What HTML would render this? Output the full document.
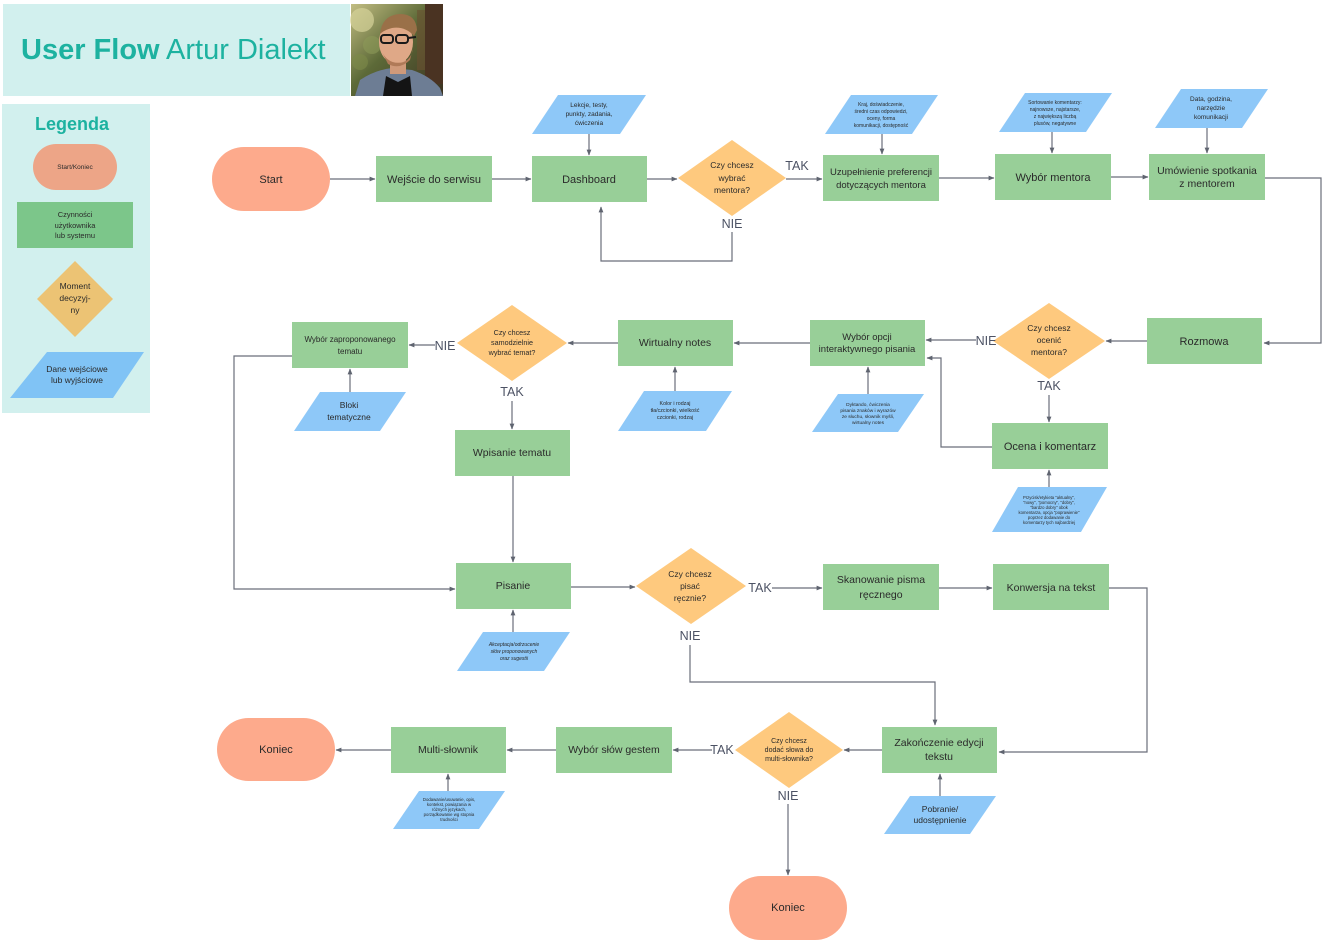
<!DOCTYPE html>
<html><head><meta charset="utf-8"><style>
html,body{margin:0;padding:0;background:#fff;}
svg{display:block;}
text{font-family:"Liberation Sans",Arial,sans-serif;fill:#2a2a2a;}
.t{text-anchor:middle;}
.lab{font-size:12.5px;fill:#4c5264;text-anchor:middle;}
.ln{fill:none;stroke:#6a6e7a;stroke-width:1.2;}
.g{fill:#98cf98;}
.p{fill:#fdaa8c;}
.d{fill:#fec97e;}
.b{fill:#8ec8f8;}
</style></head><body>
<svg width="1332" height="944" viewBox="0 0 1332 944" xmlns="http://www.w3.org/2000/svg">
<defs>
<marker id="a" viewBox="0 0 10 10" refX="9" refY="5" markerWidth="6" markerHeight="6" orient="auto-start-reverse" markerUnits="userSpaceOnUse">
<path d="M0,1 L10,5 L0,9 z" fill="#5f6470"/>
</marker>
<linearGradient id="bg" x1="0" y1="0" x2="1" y2="1">
<stop offset="0" stop-color="#c2bd82"/><stop offset="0.45" stop-color="#5d6a38"/><stop offset="1" stop-color="#3a3120"/>
</linearGradient>
</defs>

<!-- Header -->
<rect x="3" y="4" width="347" height="92" fill="#d2f0ee"/>
<text x="21" y="59" style="font-size:29px;fill:#1db2a0;"><tspan font-weight="bold">User Flow</tspan> Artur Dialekt</text>

<!-- Photo -->
<g>
<rect x="351" y="4" width="92" height="92" fill="url(#bg)"/>
<circle cx="362" cy="20" r="12" fill="#d6d39a" opacity="0.7"/>
<circle cx="372" cy="45" r="9" fill="#8c9a58" opacity="0.6"/>
<circle cx="360" cy="62" r="8" fill="#7d8a4a" opacity="0.6"/>
<rect x="425" y="4" width="18" height="80" fill="#4a3322"/>
<rect x="417" y="10" width="8" height="60" fill="#6a5030" opacity="0.6"/>
<path d="M355 96 L360 80 Q375 70 392 68 L412 70 Q430 76 440 88 L443 96 Z" fill="#6d7d94"/>
<path d="M383 96 L386 76 L398 82 L410 76 L412 96 Z" fill="#141414"/>
<rect x="390" y="54" width="16" height="20" fill="#d09a7a"/>
<ellipse cx="396" cy="42" rx="17" ry="22" fill="#dfa887"/>
<path d="M380 34 Q382 15 400 14 Q416 14 417 30 L414 36 Q405 26 392 28 Q384 30 380 34 Z" fill="#9a7048"/>
<path d="M381 50 Q388 66 404 62 Q412 58 413 48 L410 60 Q400 70 388 64 Z" fill="#b07a58"/>
<rect x="381" y="35" width="12" height="8" rx="3" fill="none" stroke="#1a1a1a" stroke-width="2"/>
<rect x="396" y="35" width="12" height="8" rx="3" fill="none" stroke="#1a1a1a" stroke-width="2"/>
<line x1="408" y1="38" x2="416" y2="37" stroke="#1a1a1a" stroke-width="2"/>
</g>

<!-- Legend -->
<rect x="2" y="104" width="148" height="309" fill="#d2f0ee"/>
<text x="72" y="130" class="t" style="font-size:18px;font-weight:bold;fill:#1db2a0;">Legenda</text>
<rect x="33" y="144" width="84" height="46" rx="23" fill="#eda587"/>
<text x="75" y="169" class="t" style="font-size:6.5px;">Start/Koniec</text>
<rect x="17" y="202" width="116" height="46" fill="#7cc68a"/>
<text class="t" style="font-size:7.5px;"><tspan x="75" y="217">Czynności</tspan><tspan x="75" y="228">użytkownika</tspan><tspan x="75" y="238">lub systemu</tspan></text>
<polygon points="75,261 113,299 75,337 37,299" fill="#ecc374"/>
<text class="t" style="font-size:8.5px;"><tspan x="75" y="289">Moment</tspan><tspan x="75" y="301">decyzyj-</tspan><tspan x="75" y="313">ny</tspan></text>
<polygon points="47,352 144,352 113,398 10,398" fill="#80c3f5"/>
<text class="t" style="font-size:8.5px;"><tspan x="77" y="372">Dane wejściowe</tspan><tspan x="77" y="383">lub wyjściowe</tspan></text>

<!-- Connectors -->
<path class="ln" d="M330 179 H375" marker-end="url(#a)"/>
<path class="ln" d="M492 179 H531" marker-end="url(#a)"/>
<path class="ln" d="M589 134 V155" marker-end="url(#a)"/>
<path class="ln" d="M647 179 H677" marker-end="url(#a)"/>
<path class="ln" d="M786 179 H822" marker-end="url(#a)"/>
<path class="ln" d="M732 232 V261 H601 V207" marker-end="url(#a)"/>
<path class="ln" d="M882 134 V154" marker-end="url(#a)"/>
<path class="ln" d="M939 178 H994" marker-end="url(#a)"/>
<path class="ln" d="M1052 132 V153" marker-end="url(#a)"/>
<path class="ln" d="M1111 177 H1148" marker-end="url(#a)"/>
<path class="ln" d="M1207 128 V153" marker-end="url(#a)"/>
<path class="ln" d="M1265 178 H1321 V343 H1264" marker-end="url(#a)"/>
<path class="ln" d="M1147 341 H1106" marker-end="url(#a)"/>
<path class="ln" d="M976 340 H926" marker-end="url(#a)"/>
<path class="ln" d="M1049 395 V422" marker-end="url(#a)"/>
<path class="ln" d="M992 447 H941 V358 H927" marker-end="url(#a)"/>
<path class="ln" d="M1049 487 V470" marker-end="url(#a)"/>
<path class="ln" d="M868 394 V367" marker-end="url(#a)"/>
<path class="ln" d="M810 343 H734" marker-end="url(#a)"/>
<path class="ln" d="M675 391 V367" marker-end="url(#a)"/>
<path class="ln" d="M618 343 H568" marker-end="url(#a)"/>
<path class="ln" d="M435 345 H409" marker-end="url(#a)"/>
<path class="ln" d="M350 392 V369" marker-end="url(#a)"/>
<path class="ln" d="M512 401 V429" marker-end="url(#a)"/>
<path class="ln" d="M292 356 H234 V589 H455" marker-end="url(#a)"/>
<path class="ln" d="M513 476 V562" marker-end="url(#a)"/>
<path class="ln" d="M513 632 V610" marker-end="url(#a)"/>
<path class="ln" d="M571 587 H635" marker-end="url(#a)"/>
<path class="ln" d="M772 588 H822" marker-end="url(#a)"/>
<path class="ln" d="M939 588 H992" marker-end="url(#a)"/>
<path class="ln" d="M1109 588 H1147 V752 H999" marker-end="url(#a)"/>
<path class="ln" d="M690 645 V682 H935 V725" marker-end="url(#a)"/>
<path class="ln" d="M882 750 H844" marker-end="url(#a)"/>
<path class="ln" d="M940 796 V774" marker-end="url(#a)"/>
<path class="ln" d="M712 750 H673" marker-end="url(#a)"/>
<path class="ln" d="M556 750 H507" marker-end="url(#a)"/>
<path class="ln" d="M448 791 V774" marker-end="url(#a)"/>
<path class="ln" d="M391 750 H336" marker-end="url(#a)"/>
<path class="ln" d="M788 804 V875" marker-end="url(#a)"/>

<!-- Terminals -->
<rect x="212" y="147" width="118" height="64" rx="32" class="p"/>
<text x="271" y="183" class="t" style="font-size:11px;">Start</text>
<rect x="217" y="718" width="118" height="63" rx="31.5" class="p"/>
<text x="276" y="753" class="t" style="font-size:11px;">Koniec</text>
<rect x="729" y="876" width="118" height="64" rx="32" class="p"/>
<text x="788" y="911" class="t" style="font-size:11px;">Koniec</text>

<!-- Process nodes -->
<rect x="376" y="156" width="116" height="46" class="g"/>
<text x="434" y="183" class="t" style="font-size:11px;">Wejście do serwisu</text>
<rect x="532" y="156" width="115" height="46" class="g"/>
<text x="589" y="183" class="t" style="font-size:11px;">Dashboard</text>
<rect x="823" y="155" width="116" height="46" class="g"/>
<text class="t" style="font-size:9.5px;"><tspan x="881" y="175">Uzupełnienie preferencji</tspan><tspan x="881" y="188">dotyczących mentora</tspan></text>
<rect x="995" y="154" width="116" height="46" class="g"/>
<text x="1053" y="181" class="t" style="font-size:11px;">Wybór mentora</text>
<rect x="1149" y="154" width="116" height="46" class="g"/>
<text class="t" style="font-size:10.5px;"><tspan x="1207" y="174">Umówienie spotkania</tspan><tspan x="1207" y="187">z mentorem</tspan></text>
<rect x="1147" y="318" width="115" height="46" class="g"/>
<text x="1204" y="345" class="t" style="font-size:11px;">Rozmowa</text>
<rect x="810" y="320" width="115" height="46" class="g"/>
<text class="t" style="font-size:9.5px;"><tspan x="867" y="340">Wybór opcji</tspan><tspan x="867" y="352">interaktywnego pisania</tspan></text>
<rect x="992" y="423" width="116" height="46" class="g"/>
<text x="1050" y="450" class="t" style="font-size:11px;">Ocena i komentarz</text>
<rect x="618" y="320" width="115" height="46" class="g"/>
<text x="675" y="346" class="t" style="font-size:10.5px;">Wirtualny notes</text>
<rect x="292" y="322" width="116" height="46" class="g"/>
<text class="t" style="font-size:8px;"><tspan x="350" y="342">Wybór zaproponowanego</tspan><tspan x="350" y="354">tematu</tspan></text>
<rect x="455" y="430" width="115" height="46" class="g"/>
<text x="512" y="456" class="t" style="font-size:10.5px;">Wpisanie tematu</text>
<rect x="456" y="563" width="115" height="46" class="g"/>
<text x="513" y="589" class="t" style="font-size:10.5px;">Pisanie</text>
<rect x="823" y="564" width="116" height="46" class="g"/>
<text class="t" style="font-size:10.5px;"><tspan x="881" y="583">Skanowanie pisma</tspan><tspan x="881" y="598">ręcznego</tspan></text>
<rect x="993" y="564" width="116" height="46" class="g"/>
<text x="1051" y="591" class="t" style="font-size:10.5px;">Konwersja na tekst</text>
<rect x="882" y="727" width="115" height="46" class="g"/>
<text class="t" style="font-size:10.5px;"><tspan x="939" y="746">Zakończenie edycji</tspan><tspan x="939" y="760">tekstu</tspan></text>
<rect x="556" y="727" width="116" height="46" class="g"/>
<text x="614" y="753" class="t" style="font-size:10.5px;">Wybór słów gestem</text>
<rect x="391" y="727" width="115" height="46" class="g"/>
<text x="448" y="753" class="t" style="font-size:10.5px;">Multi-słownik</text>

<!-- Decisions -->
<polygon points="732,140 786,178 732,216 678,178" class="d"/>
<text class="t" style="font-size:8.5px;"><tspan x="732" y="168">Czy chcesz</tspan><tspan x="732" y="181">wybrać</tspan><tspan x="732" y="193">mentora?</tspan></text>
<polygon points="1049,303 1105,341 1049,379 993,341" class="d"/>
<text class="t" style="font-size:8.5px;"><tspan x="1049" y="331">Czy chcesz</tspan><tspan x="1049" y="343">ocenić</tspan><tspan x="1049" y="355">mentora?</tspan></text>
<polygon points="512,305 567,343 512,381 457,343" class="d"/>
<text class="t" style="font-size:7.2px;"><tspan x="512" y="335">Czy chcesz</tspan><tspan x="512" y="345">samodzielnie</tspan><tspan x="512" y="355">wybrać temat?</tspan></text>
<polygon points="691,548 746,586 691,624 636,586" class="d"/>
<text class="t" style="font-size:8.5px;"><tspan x="690" y="577">Czy chcesz</tspan><tspan x="690" y="589">pisać</tspan><tspan x="690" y="601">ręcznie?</tspan></text>
<polygon points="789,712 843,750 789,788 735,750" class="d"/>
<text class="t" style="font-size:7px;"><tspan x="789" y="743">Czy chcesz</tspan><tspan x="789" y="752">dodać słowa do</tspan><tspan x="789" y="761">multi-słownika?</tspan></text>

<!-- Labels -->
<text x="797" y="170" class="lab">TAK</text>
<text x="732" y="228" class="lab">NIE</text>
<text x="986" y="345" class="lab">NIE</text>
<text x="1049" y="390" class="lab">TAK</text>
<text x="445" y="350" class="lab">NIE</text>
<text x="512" y="396" class="lab">TAK</text>
<text x="760" y="592" class="lab">TAK</text>
<text x="690" y="640" class="lab">NIE</text>
<text x="722" y="754" class="lab">TAK</text>
<text x="788" y="800" class="lab">NIE</text>

<!-- Data parallelograms -->
<polygon points="558,95 646,95 620,134 532,134" class="b"/>
<text class="t" style="font-size:6.5px;"><tspan x="589" y="107">Lekcje, testy,</tspan><tspan x="589" y="116">punkty, zadania,</tspan><tspan x="589" y="125">ćwiczenia</tspan></text>
<polygon points="851,95 938,95 912,134 825,134" class="b"/>
<text class="t" style="font-size:5px;"><tspan x="881" y="106">Kraj, doświadczenie,</tspan><tspan x="881" y="113">średni czas odpowiedzi,</tspan><tspan x="881" y="120">oceny, forma</tspan><tspan x="881" y="127">komunikacji, dostępność</tspan></text>
<polygon points="1025,93 1112,93 1086,132 999,132" class="b"/>
<text class="t" style="font-size:5px;"><tspan x="1055" y="104">Sortowanie komentarzy:</tspan><tspan x="1055" y="111">najnowsze, najstarsze,</tspan><tspan x="1055" y="118">z największą liczbą</tspan><tspan x="1055" y="125">plusów, negatywne</tspan></text>
<polygon points="1181,89 1268,89 1242,128 1155,128" class="b"/>
<text class="t" style="font-size:6.5px;"><tspan x="1211" y="101">Data, godzina,</tspan><tspan x="1211" y="110">narzędzie</tspan><tspan x="1211" y="119">komunikacji</tspan></text>
<polygon points="838,394 924,394 898,432 812,432" class="b"/>
<text class="t" style="font-size:4.8px;"><tspan x="868" y="406">Dyktando, ćwiczenia</tspan><tspan x="868" y="412">pisania znaków i wyrazów</tspan><tspan x="868" y="418">ze słuchu, słownik myśli,</tspan><tspan x="868" y="424">wirtualny notes</tspan></text>
<polygon points="1018,487 1107,487 1081,532 992,532" class="b"/>
<text class="t" style="font-size:4.2px;"><tspan x="1049" y="499">Przycisk/etykieta "aktualny",</tspan><tspan x="1049" y="504">"nowy", "pomocny", "dobry",</tspan><tspan x="1049" y="509">"bardzo dobry" obok</tspan><tspan x="1049" y="514">komentarza, opcja "poprawienie"</tspan><tspan x="1049" y="519">poprzez dodawanie do</tspan><tspan x="1049" y="524">komentarzy tych najbardziej</tspan></text>
<polygon points="644,391 732,391 706,431 618,431" class="b"/>
<text class="t" style="font-size:5.3px;"><tspan x="675" y="405">Kolor i rodzaj</tspan><tspan x="675" y="412">tła/czcionki, wielkość</tspan><tspan x="675" y="419">czcionki, rodzaj</tspan></text>
<polygon points="320,392 406,392 380,431 294,431" class="b"/>
<text class="t" style="font-size:8.5px;"><tspan x="349" y="408">Bloki</tspan><tspan x="349" y="420">tematyczne</tspan></text>
<polygon points="483,632 570,632 544,671 457,671" class="b"/>
<text class="t" style="font-size:5px;font-style:italic;"><tspan x="514" y="646">Akceptacja/odrzucenie</tspan><tspan x="514" y="653">słów proponowanych</tspan><tspan x="514" y="660">oraz sugestii</tspan></text>
<polygon points="910,796 996,796 970,834 884,834" class="b"/>
<text class="t" style="font-size:8.5px;"><tspan x="940" y="812">Pobranie/</tspan><tspan x="940" y="823">udostępnienie</tspan></text>
<polygon points="419,791 505,791 479,829 393,829" class="b"/>
<text class="t" style="font-size:4.3px;"><tspan x="449" y="801">Dodawanie/usuwanie, opis,</tspan><tspan x="449" y="806">kontekst, powiązania w</tspan><tspan x="449" y="811">różnych językach,</tspan><tspan x="449" y="816">porządkowanie wg stopnia</tspan><tspan x="449" y="821">trudności</tspan></text>
</svg>
</body></html>
